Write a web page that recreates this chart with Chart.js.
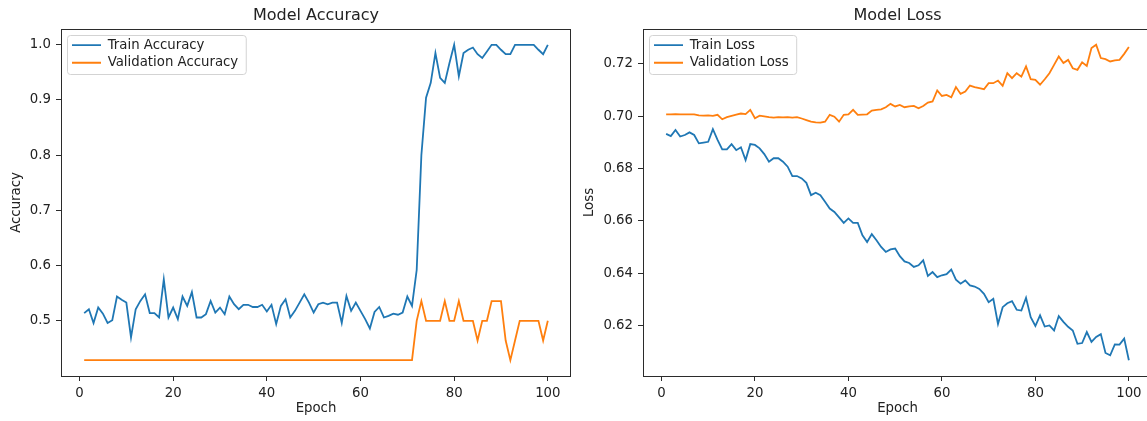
<!DOCTYPE html>
<html>
<head>
<meta charset="utf-8">
<script src="https://cdn.jsdelivr.net/npm/chart.js@4.4.1/dist/chart.umd.min.js"></script>
<style>
    html, body { margin: 0; padding: 0; background: #fff; overflow: hidden; }
    .plot { position: absolute; top: 0; height: 421px; }
    #accBox { left: 0; width: 632px; }
    #lossBox { left: 580px; width: 635px; }
</style>
</head>
<body>
<div class="plot" id="accBox"><canvas id="accuracyChart"></canvas></div>
<div class="plot" id="lossBox"><canvas id="lossChart"></canvas></div>
<script>
const epochs = [
    1, 2, 3, 4, 5, 6, 7, 8, 9, 10, 11, 12, 13, 14, 15, 16, 17, 18, 19, 20,
    21, 22, 23, 24, 25, 26, 27, 28, 29, 30, 31, 32, 33, 34, 35, 36, 37, 38, 39, 40,
    41, 42, 43, 44, 45, 46, 47, 48, 49, 50, 51, 52, 53, 54, 55, 56, 57, 58, 59, 60,
    61, 62, 63, 64, 65, 66, 67, 68, 69, 70, 71, 72, 73, 74, 75, 76, 77, 78, 79, 80,
    81, 82, 83, 84, 85, 86, 87, 88, 89, 90, 91, 92, 93, 94, 95, 96, 97, 98, 99, 100
];

const trainAccuracy = [
    0.514, 0.521, 0.496, 0.524, 0.513, 0.496, 0.501, 0.544, 0.538, 0.533,
    0.470, 0.521, 0.536, 0.548, 0.514, 0.514, 0.506, 0.575, 0.506, 0.524,
    0.503, 0.544, 0.527, 0.552, 0.506, 0.506, 0.512, 0.536, 0.515, 0.524,
    0.512, 0.544, 0.530, 0.521, 0.529, 0.529, 0.525, 0.525, 0.529, 0.517,
    0.529, 0.494, 0.527, 0.539, 0.506, 0.518, 0.533, 0.548, 0.533, 0.515,
    0.530, 0.533, 0.530, 0.533, 0.533, 0.496, 0.545, 0.518, 0.533, 0.518,
    0.503, 0.486, 0.516, 0.525, 0.506, 0.509, 0.513, 0.511, 0.515, 0.544,
    0.527, 0.592, 0.800, 0.904, 0.931, 0.985, 0.940, 0.931, 0.967, 1.000,
    0.943, 0.985, 0.991, 0.995, 0.983, 0.976, 0.988, 1.000, 1.000, 0.991,
    0.983, 0.983, 1.000, 1.000, 1.000, 1.000, 1.000, 0.991, 0.983, 1.000
];

const valAccuracy = [
    0.4286, 0.4286, 0.4286, 0.4286, 0.4286, 0.4286, 0.4286, 0.4286, 0.4286, 0.4286,
    0.4286, 0.4286, 0.4286, 0.4286, 0.4286, 0.4286, 0.4286, 0.4286, 0.4286, 0.4286,
    0.4286, 0.4286, 0.4286, 0.4286, 0.4286, 0.4286, 0.4286, 0.4286, 0.4286, 0.4286,
    0.4286, 0.4286, 0.4286, 0.4286, 0.4286, 0.4286, 0.4286, 0.4286, 0.4286, 0.4286,
    0.4286, 0.4286, 0.4286, 0.4286, 0.4286, 0.4286, 0.4286, 0.4286, 0.4286, 0.4286,
    0.4286, 0.4286, 0.4286, 0.4286, 0.4286, 0.4286, 0.4286, 0.4286, 0.4286, 0.4286,
    0.4286, 0.4286, 0.4286, 0.4286, 0.4286, 0.4286, 0.4286, 0.4286, 0.4286, 0.4286,
    0.4286, 0.5000, 0.5357, 0.5000, 0.5000, 0.5000, 0.5000, 0.5357, 0.5000, 0.5000,
    0.5357, 0.5000, 0.5000, 0.5000, 0.4643, 0.5000, 0.5000, 0.5357, 0.5357, 0.5357,
    0.4643, 0.4286, 0.4643, 0.5000, 0.5000, 0.5000, 0.5000, 0.5000, 0.4643, 0.5000
];

const trainLoss = [
    0.6932, 0.6924, 0.6947, 0.6922, 0.6928, 0.6938, 0.6928, 0.6896, 0.6899, 0.6902,
    0.6950, 0.6909, 0.6873, 0.6873, 0.6893, 0.6870, 0.6881, 0.6832, 0.6893, 0.6890,
    0.6877, 0.6855, 0.6826, 0.6839, 0.6839, 0.6826, 0.6807, 0.6771, 0.6771, 0.6762,
    0.6745, 0.6698, 0.6707, 0.6698, 0.6673, 0.6647, 0.6634, 0.6613, 0.6592, 0.6609,
    0.6592, 0.6592, 0.6545, 0.6519, 0.6549, 0.6526, 0.6500, 0.6481, 0.6491, 0.6494,
    0.6465, 0.6445, 0.6439, 0.6424, 0.6430, 0.6449, 0.6389, 0.6404, 0.6385, 0.6392,
    0.6396, 0.6414, 0.6375, 0.6360, 0.6372, 0.6353, 0.6349, 0.6340, 0.6321, 0.6289,
    0.6302, 0.6206, 0.6270, 0.6285, 0.6293, 0.6260, 0.6257, 0.6306, 0.6232, 0.6198,
    0.6239, 0.6196, 0.6200, 0.6181, 0.6236, 0.6214, 0.6195, 0.6181, 0.6130, 0.6133,
    0.6175, 0.6137, 0.6156, 0.6167, 0.6095, 0.6086, 0.6128, 0.6127, 0.6150, 0.6067
];

const valLoss = [
    0.7007, 0.7007, 0.7008, 0.7007, 0.7007, 0.7007, 0.7007, 0.7003, 0.7002, 0.7003,
    0.7001, 0.7005, 0.6988, 0.6996, 0.7001, 0.7006, 0.7010, 0.7008, 0.7024, 0.6992,
    0.7002, 0.6999, 0.6996, 0.6994, 0.6996, 0.6995, 0.6996, 0.6994, 0.6996, 0.6991,
    0.6985, 0.6979, 0.6976, 0.6975, 0.6979, 0.7005, 0.6998, 0.6979, 0.7005, 0.7007,
    0.7024, 0.7005, 0.7006, 0.7007, 0.7021, 0.7024, 0.7026, 0.7034, 0.7047, 0.7037,
    0.7043, 0.7034, 0.7037, 0.7039, 0.7030, 0.7039, 0.7052, 0.7056, 0.7098, 0.7077,
    0.7081, 0.7072, 0.7111, 0.7085, 0.7094, 0.7117, 0.7111, 0.7107, 0.7103, 0.7126,
    0.7126, 0.7136, 0.7116, 0.7164, 0.7145, 0.7164, 0.7151, 0.7190, 0.7141, 0.7139,
    0.7120, 0.7141, 0.7164, 0.7196, 0.7228, 0.7203, 0.7215, 0.7183, 0.7177, 0.7206,
    0.7192, 0.7260, 0.7273, 0.7222, 0.7218, 0.7209, 0.7213, 0.7215, 0.7238, 0.7264
];

const epochTicks = [0, 20, 40, 60, 80, 100];
const accuracyTicks = [0.5, 0.6, 0.7, 0.8, 0.9, 1.0];
const lossTicks = [0.62, 0.64, 0.66, 0.68, 0.70, 0.72];

const blue = '#1f77b4';
const orange = '#ff7f0e';
const ink = '#222';
const fontFamily = "'DejaVu Sans', sans-serif";

// matplotlib style box around the plot area plus a framed legend
const axesFrame = {
    id: 'axesFrame',
    afterLayout(chart) {
        // legend in 'chartArea' mode keeps top at 0, so pin it inside the axes
        chart.legend.left = chart.chartArea.left + 6.6;
        chart.legend.top = chart.chartArea.top + 5;
    },
    beforeDraw(chart) {
        const ctx = chart.ctx;
        const a = chart.chartArea;
        ctx.save();
        ctx.font = '13.3px ' + fontFamily;
        const textW = Math.max(...chart.data.datasets.map(d => ctx.measureText(d.label).width));
        const x = a.left + 6.5;
        const y = a.top + 6.5;
        const w = (11 + 29 + 6.65 + textW + 8) - 6.5;
        const h = 39;
        ctx.beginPath();
        ctx.roundRect(x, y, w, h, 3);
        ctx.fillStyle = 'rgba(255,255,255,0.8)';
        ctx.fill();
        ctx.strokeStyle = '#d3d3d3';
        ctx.lineWidth = 1;
        ctx.stroke();
        ctx.restore();
    },
    afterDraw(chart) {
        const ctx = chart.ctx;
        const a = chart.chartArea;
        ctx.save();
        ctx.strokeStyle = '#2b2b2b';
        ctx.lineWidth = 1;
        ctx.strokeRect(a.left + 0.5, a.top + 0.5, a.right - a.left - 1, a.bottom - a.top);
        ctx.restore();
    }
};

function lineSet(label, data, color) {
    return {
        label: label,
        data: data,
        borderColor: color,
        backgroundColor: color,
        pointBorderColor: color,
        pointBorderWidth: 1.8,
        borderWidth: 1.8,
        pointRadius: 0,
        pointHoverRadius: 0,
        fill: false,
        tension: 0
    };
}

function makeOptions(title, yTitle, yMin, yMax, yTicks, decimals, sideWidth, yTitlePad) {
    return {
        responsive: true,
        maintainAspectRatio: false,
        animation: false,
        layout: { padding: 0 },
        plugins: {
            title: {
                display: true,
                text: title,
                color: ink,
                font: { family: fontFamily, size: 16, weight: 'normal' },
                padding: { top: 6.4, bottom: 3.4 }
            },
            legend: {
                position: 'chartArea',
                align: 'start',
                labels: {
                    usePointStyle: true,
                    pointStyle: 'line',
                    pointStyleWidth: 29,
                    padding: 4.4,
                    color: ink,
                    font: { family: fontFamily, size: 13.3 }
                }
            },
            tooltip: { enabled: false }
        },
        scales: {
            x: {
                type: 'linear',
                min: -3.95,
                max: 104.95,
                afterBuildTicks: s => { s.ticks = epochTicks.map(v => ({ value: v })); },
                afterFit: s => { s.height = 45; },
                ticks: {
                    color: ink,
                    padding: 5,
                    maxRotation: 0,
                    autoSkip: false,
                    font: { family: fontFamily, size: 13.3 },
                    callback: v => String(v)
                },
                grid: { drawOnChartArea: false, drawTicks: true, tickLength: 5, color: '#2b2b2b' },
                border: { display: false },
                title: {
                    display: true,
                    text: 'Epoch',
                    color: ink,
                    font: { family: fontFamily, size: 13.3 },
                    padding: { top: 0, bottom: 4.5 }
                }
            },
            y: {
                type: 'linear',
                position: 'left',
                min: yMin,
                max: yMax,
                afterBuildTicks: s => { s.ticks = yTicks.map(v => ({ value: v })); },
                afterFit: s => { s.width = sideWidth; },
                ticks: {
                    color: ink,
                    padding: 5,
                    autoSkip: false,
                    font: { family: fontFamily, size: 13.3 },
                    callback: v => Number(v).toFixed(decimals)
                },
                grid: { drawOnChartArea: false, drawTicks: true, tickLength: 5, color: '#2b2b2b' },
                border: { display: false },
                title: {
                    display: true,
                    text: yTitle,
                    color: ink,
                    font: { family: fontFamily, size: 13.3 },
                    padding: { top: yTitlePad, bottom: 0 }
                }
            },
            yPad: {
                type: 'linear',
                position: 'right',
                display: true,
                afterFit: s => { s.width = sideWidth; },
                ticks: { display: false },
                grid: { display: false },
                border: { display: false }
            }
        }
    };
}

document.addEventListener("DOMContentLoaded", function () {
    const ctxAccuracy = document.getElementById('accuracyChart');
    if (ctxAccuracy) {
        new Chart(ctxAccuracy, {
            type: 'line',
            data: {
                labels: epochs,
                datasets: [
                    lineSet('Train Accuracy', trainAccuracy, blue),
                    lineSet('Validation Accuracy', valAccuracy, orange)
                ]
            },
            options: makeOptions('Model Accuracy', 'Accuracy', 0.4, 1.0286, accuracyTicks, 1, 61, 9),
            plugins: [axesFrame]
        });
    }

    const ctxLoss = document.getElementById('lossChart');
    if (ctxLoss) {
        new Chart(ctxLoss, {
            type: 'line',
            data: {
                labels: epochs,
                datasets: [
                    lineSet('Train Loss', trainLoss, blue),
                    lineSet('Validation Loss', valLoss, orange)
                ]
            },
            options: makeOptions('Model Loss', 'Loss', 0.6007, 0.7333, lossTicks, 2, 63, 2),
            plugins: [axesFrame]
        });
    }
});
</script>
</body>
</html>
